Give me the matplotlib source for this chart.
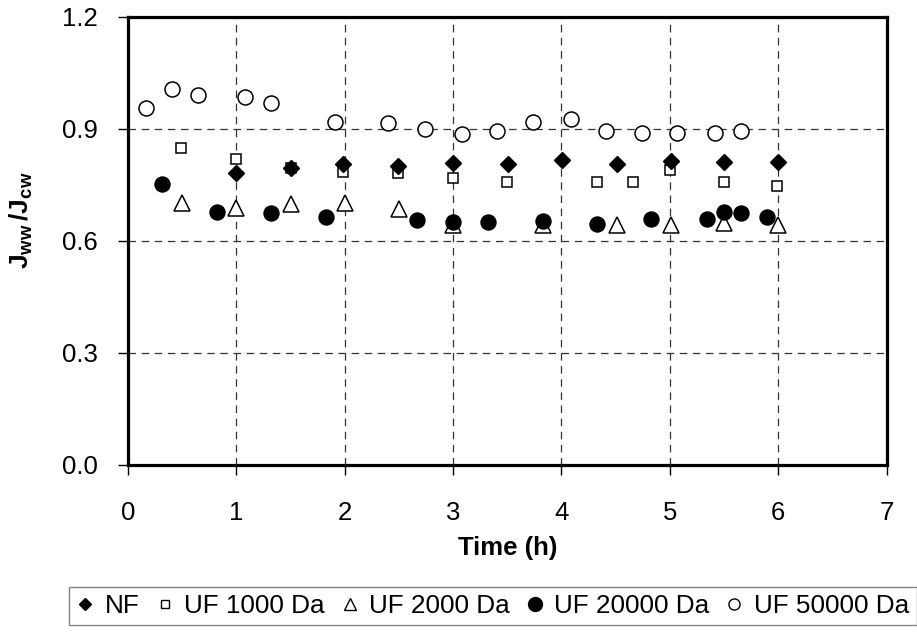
import matplotlib
matplotlib.use("Agg")
import matplotlib.pyplot as plt
from matplotlib.lines import Line2D

plt.rcParams['font.family'] = ['Liberation Sans', 'DejaVu Sans']
plt.rcParams['mathtext.fontset'] = 'custom'
plt.rcParams['mathtext.rm'] = 'Liberation Sans'
plt.rcParams['mathtext.bf'] = 'Liberation Sans:bold'

# NF
nf_t = [1.00, 1.51, 1.99, 2.49, 3.00, 3.51, 4.01, 4.51, 5.01, 5.50, 6.00]
nf_y = [0.781, 0.796, 0.806, 0.801, 0.808, 0.806, 0.816, 0.806, 0.814, 0.812, 0.812]

# UF 1000 Da
uf1000_t = [0.49, 1.00, 1.51, 1.99, 2.49, 3.00, 3.50, 4.33, 4.66, 5.00, 5.50, 5.99]
uf1000_y = [0.849, 0.818, 0.794, 0.783, 0.781, 0.769, 0.758, 0.758, 0.758, 0.790, 0.758, 0.748]

# UF 2000 Da
uf2000_t = [0.50, 1.00, 1.51, 2.00, 2.50, 3.00, 3.83, 4.51, 5.01, 5.50, 6.00]
uf2000_y = [0.702, 0.689, 0.699, 0.702, 0.684, 0.642, 0.642, 0.642, 0.642, 0.647, 0.642]

# UF 20000 Da
uf20000_t = [0.32, 0.82, 1.32, 1.83, 2.67, 3.00, 3.32, 3.83, 4.33, 4.83, 5.34, 5.50, 5.66, 5.90]
uf20000_y = [0.752, 0.676, 0.674, 0.663, 0.656, 0.651, 0.651, 0.653, 0.644, 0.658, 0.658, 0.678, 0.674, 0.663]

# UF 50000 Da
uf50000_t = [0.17, 0.41, 0.65, 1.08, 1.32, 1.91, 2.40, 2.74, 3.08, 3.41, 3.74, 4.09, 4.41,
             4.74, 5.07, 5.42, 5.66]
uf50000_y = [0.955, 1.006, 0.990, 0.984, 0.970, 0.919, 0.915, 0.899, 0.885, 0.895, 0.919,
             0.925, 0.895, 0.889, 0.889, 0.889, 0.895]

x_ticks = [0, 1, 2, 3, 4, 5, 6, 7]
y_ticks = [0.0, 0.3, 0.6, 0.9, 1.2]
labels = ['NF', 'UF 1000 Da', 'UF 2000 Da', 'UF 20000 Da', 'UF 50000 Da']

fig = plt.figure(figsize=(9.17, 6.34), dpi=100)
ax = fig.add_axes([127.7 / 917, 1 - 465 / 634, (886.7 - 127.7) / 917, (465 - 16.7) / 634])

ax.plot(uf50000_t, uf50000_y, 'o', ms=10.8, mfc='white', mec='black', mew=1.1, ls='none', zorder=3)
ax.plot(uf2000_t, uf2000_y, '^', ms=11, mfc='white', mec='black', mew=1.1, ls='none', zorder=3)
ax.plot(uf1000_t, uf1000_y, 's', ms=7.5, mfc='white', mec='black', mew=1.1, ls='none', zorder=4)
ax.plot(nf_t, nf_y, 'D', ms=8, mfc='black', mec='black', mew=1, ls='none', zorder=5)
ax.plot(uf20000_t, uf20000_y, 'o', ms=10.8, mfc='black', mec='black', mew=1, ls='none', zorder=5)

ax.set_xlim(0, 7)
ax.set_ylim(0, 1.2)
ax.set_xticks(x_ticks)
ax.set_yticks(y_ticks)
ax.set_yticklabels([f"{v:.1f}" for v in y_ticks])
ax.tick_params(axis='x', direction='out', length=7, width=1, labelsize=18.5, pad=19)
ax.tick_params(axis='y', direction='out', length=7, width=1, labelsize=18.5, pad=14.5)

ax.grid(True, color='#333333', lw=0.9, linestyle=(0, (6, 4.5)))
ax.set_axisbelow(True)
for s in ax.spines.values():
    s.set_linewidth(2.3)
    s.set_color('black')

ax.set_xlabel('Time (h)', fontsize=18.5, fontweight='bold', labelpad=8)
ax.set_ylabel(r'$\mathbf{J_{ww}\,/J_{cw}}$', fontsize=19)
ax.yaxis.set_label_coords(-0.122, 0.545)

# legend row under the chart
handles = [
    Line2D([], [], marker='D', ls='none', ms=6.4, mfc='black', mec='black'),
    Line2D([], [], marker='s', ls='none', ms=5.5, mfc='white', mec='black', mew=1),
    Line2D([], [], marker='^', ms=8.5, ls='none', mfc='white', mec='black', mew=1),
    Line2D([], [], marker='o', ls='none', ms=10, mfc='black', mec='black'),
    Line2D([], [], marker='o', ls='none', ms=8, mfc='white', mec='black', mew=1),
]
leg = fig.legend(handles, labels, loc='upper left', bbox_to_anchor=(69 / 917, 1 - 586.7 / 634),
                 ncol=5, fontsize=18.8, frameon=True, fancybox=False, borderpad=0.28,
                 handlelength=0.7, handletextpad=0.4, columnspacing=0.6, borderaxespad=0)
leg.get_frame().set_edgecolor('#666666')
leg.get_frame().set_linewidth(1.0)

fig.savefig('out.png', dpi=100)
